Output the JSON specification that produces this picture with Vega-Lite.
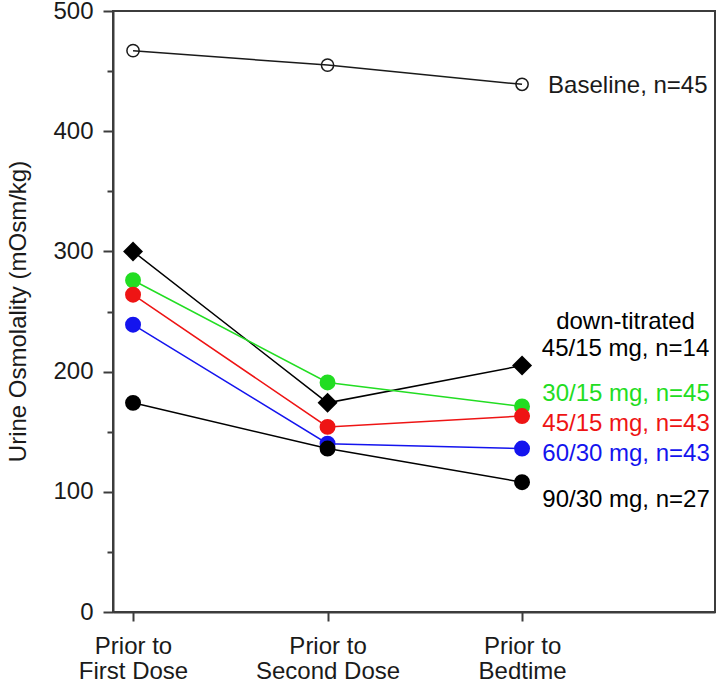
{
  "$schema": "https://vega.github.io/schema/vega-lite/v6.json",
  "autosize": {"type": "none"},
  "width": 602,
  "height": 601,
  "padding": {"left": 113, "top": 11, "right": 5, "bottom": 74},
  "background": "white",
  "config": {
    "view": {"stroke": "#3c3c3c", "strokeWidth": 2},
    "font": "Liberation Sans"
  },
  "datasets": {
    "pts": [
      {"series": "base", "time": 1, "value": 467},
      {"series": "base", "time": 2, "value": 455},
      {"series": "base", "time": 3, "value": 439},
      {"series": "dt", "time": 1, "value": 300},
      {"series": "dt", "time": 2, "value": 174},
      {"series": "dt", "time": 3, "value": 205},
      {"series": "g", "time": 1, "value": 276},
      {"series": "g", "time": 2, "value": 191},
      {"series": "g", "time": 3, "value": 171},
      {"series": "r", "time": 1, "value": 264},
      {"series": "r", "time": 2, "value": 154},
      {"series": "r", "time": 3, "value": 163},
      {"series": "b", "time": 1, "value": 239},
      {"series": "b", "time": 2, "value": 140},
      {"series": "b", "time": 3, "value": 136},
      {"series": "k", "time": 1, "value": 174},
      {"series": "k", "time": 2, "value": 136},
      {"series": "k", "time": 3, "value": 108}
    ],
    "labs": [
      {"series": "base", "text": "Baseline, n=45", "x": 3.134, "y": 437.5, "pos": "left"},
      {"series": "dt", "text": "down-titrated", "x": 3.532, "y": 241, "pos": "center"},
      {"series": "dt", "text": "45/15 mg, n=14", "x": 3.532, "y": 219, "pos": "center"},
      {"series": "g", "text": "30/15 mg, n=45", "x": 3.104, "y": 181, "pos": "left"},
      {"series": "r", "text": "45/15 mg, n=43", "x": 3.104, "y": 156.5, "pos": "left"},
      {"series": "b", "text": "60/30 mg, n=43", "x": 3.104, "y": 131.5, "pos": "left"},
      {"series": "k", "text": "90/30 mg, n=27", "x": 3.104, "y": 93.5, "pos": "left"}
    ]
  },
  "layer": [
    {
      "data": {"name": "pts"},
      "mark": {"type": "line", "strokeWidth": 1.5, "clip": false},
      "encoding": {
        "x": {
          "field": "time", "type": "quantitative",
          "scale": {"domain": [0.897, 3.992], "nice": false, "zero": false},
          "axis": {
            "values": [1, 2, 3],
            "labelExpr": "datum.value == 1 ? ['Prior to', 'First Dose'] : datum.value == 2 ? ['Prior to', 'Second Dose'] : ['Prior to', 'Bedtime']",
            "title": null,
            "grid": false,
            "domainColor": "#3c3c3c",
            "domainWidth": 2,
            "tickColor": "#3c3c3c",
            "tickWidth": 2,
            "tickSize": 9,
            "labelFontSize": 24,
            "labelFont": "Liberation Sans",
            "labelColor": "#1a1a1a",
            "labelPadding": 13,
            "labelLineHeight": 25,
            "labelFlush": false,
            "labelOverlap": false
          }
        },
        "y": {
          "field": "value", "type": "quantitative",
          "scale": {"domain": [0, 500], "nice": false},
          "axis": {
            "values": [0, 50, 100, 150, 200, 250, 300, 350, 400, 450, 500],
            "labelExpr": "datum.value % 100 === 0 ? datum.label : ''",
            "title": "Urine Osmolality (mOsm/kg)",
            "titleFontSize": 24,
            "titleFont": "Liberation Sans",
            "titleFontWeight": "normal",
            "titleColor": "#1a1a1a",
            "titleX": -95,
            "titleY": 300,
            "titleAngle": -90,
            "titleAlign": "center",
            "titleBaseline": "middle",
            "grid": false,
            "domainColor": "#3c3c3c",
            "domainWidth": 2,
            "tickColor": "#3c3c3c",
            "tickWidth": 2,
            "tickSize": {"condition": {"test": "datum.value % 100 === 0", "value": 10}, "value": 6},
            "labelFontSize": 24,
            "labelFont": "Liberation Sans",
            "labelColor": "#1a1a1a",
            "labelPadding": 10,
            "labelFlush": false,
            "labelOverlap": false
          }
        },
        "detail": {"field": "series"},
        "color": {
          "field": "series", "type": "nominal",
          "scale": {"domain": ["base", "dt", "g", "r", "b", "k"], "range": ["#1a1a1a", "#000000", "#22dd22", "#ee1414", "#1414ee", "#000000"]},
          "legend": null
        }
      }
    },
    {
      "data": {"name": "pts"},
      "transform": [{"filter": "indexof(['g','r','b','k'], datum.series) >= 0"}],
      "mark": {"type": "point", "shape": "circle", "filled": true, "opacity": 1, "size": 254},
      "encoding": {
        "x": {"field": "time", "type": "quantitative"},
        "y": {"field": "value", "type": "quantitative"},
        "color": {"field": "series", "type": "nominal", "legend": null}
      }
    },
    {
      "data": {"name": "pts"},
      "transform": [{"filter": "datum.series == 'dt'"}],
      "mark": {"type": "point", "shape": "diamond", "filled": true, "opacity": 1, "size": 400, "color": "#000000"},
      "encoding": {
        "x": {"field": "time", "type": "quantitative"},
        "y": {"field": "value", "type": "quantitative"}
      }
    },
    {
      "data": {"name": "pts"},
      "transform": [{"filter": "datum.series == 'base'"}],
      "mark": {"type": "point", "shape": "circle", "filled": false, "opacity": 1, "size": 150, "strokeWidth": 1.5, "color": "#1a1a1a"},
      "encoding": {
        "x": {"field": "time", "type": "quantitative"},
        "y": {"field": "value", "type": "quantitative"}
      }
    },
    {
      "data": {"name": "labs"},
      "transform": [{"filter": "datum.pos == 'left'"}],
      "mark": {"type": "text", "align": "left", "baseline": "middle", "fontSize": 24, "font": "Liberation Sans"},
      "encoding": {
        "x": {"field": "x", "type": "quantitative"},
        "y": {"field": "y", "type": "quantitative"},
        "text": {"field": "text"},
        "color": {"field": "series", "type": "nominal", "legend": null}
      }
    },
    {
      "data": {"name": "labs"},
      "transform": [{"filter": "datum.pos == 'center'"}],
      "mark": {"type": "text", "align": "center", "baseline": "middle", "fontSize": 24, "font": "Liberation Sans"},
      "encoding": {
        "x": {"field": "x", "type": "quantitative"},
        "y": {"field": "y", "type": "quantitative"},
        "text": {"field": "text"},
        "color": {"field": "series", "type": "nominal", "legend": null}
      }
    }
  ]
}
